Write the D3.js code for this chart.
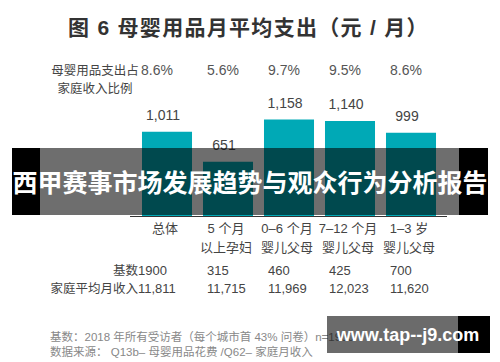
<!DOCTYPE html>
<html>
<head>
<meta charset="utf-8">
<script src="https://d3js.org/d3.v7.min.js"></script>
<style type="text/css">
body {margin:0;background:#fff;}
svg {display:block;}
text {font-family:"Liberation Sans","Noto Sans CJK SC",sans-serif;}
</style>
</head>
<body>
<svg id="chart" width="500" height="362"></svg>
<script type="text/javascript">
	// data
	var categories = ["总体", "5个月以上孕妇", "0–6个月婴儿父母", "7–12个月婴儿父母", "1–3岁婴儿父母"];
	var catLine1 = ["总体", "5 个月", "0–6 个月", "7–12 个月", "1–3 岁"];
	var catLine2 = ["", "以上孕妇", "婴儿父母", "婴儿父母", "婴儿父母"];
	var spend = [1011, 651, 1158, 1140, 999];
	var spendLabels = ["1,011", "651", "1,158", "1,140", "999"];
	var shareLabels = ["8.6%", "5.6%", "9.7%", "9.5%", "8.6%"];
	var baseCounts = ["1900", "315", "460", "425", "700"];
	var incomeLabels = ["11,811", "11,715", "11,969", "12,023", "11,620"];

	var svg = d3.select("#chart");

	var x = d3.scaleBand()
		.domain(categories)
		.range([136.5, 441.5])
		.paddingInner(0.18)
		.paddingOuter(0.09);

	var y = d3.scaleLinear()
		.domain([0, 1200])
		.range([216, 116]);

	// title
	svg.append("text")
		.attr("x", 68).attr("y", 35)
		.attr("font-size", 21).attr("font-weight", "bold")
		.attr("fill", "#333")
		.attr("letter-spacing", 1.3)
		.attr("font-family", "'Noto Sans CJK SC',sans-serif")
		.text("图 6  母婴用品月平均支出（元 / 月）");

	// share row
	var rowLab = svg.append("text")
		.attr("text-anchor", "middle")
		.attr("font-size", 12.5).attr("fill", "#444");
	rowLab.append("tspan").attr("x", 95).attr("y", 75).text("母婴用品支出占");
	rowLab.append("tspan").attr("x", 95).attr("y", 93).text("家庭收入比例");

	function colX(d, i) {
		return i == 0 ? x(categories[i]) - 1 : x(categories[i]) + 4;
	}

	svg.selectAll(".share").data(shareLabels).enter().append("text")
		.attr("class", "share")
		.attr("x", colX).attr("y", 75)
		.attr("font-size", 14).attr("fill", "#555")
		.text(function(d){ return d; });

	// bars
	svg.selectAll(".bar").data(spend).enter().append("rect")
		.attr("class", "bar")
		.attr("x", function(d, i){ return x(categories[i]); })
		.attr("width", x.bandwidth())
		.attr("y", function(d){ return y(d); })
		.attr("height", function(d){ return y(0) - y(d); })
		.attr("fill", "#00a9b6");

	svg.selectAll(".val").data(spend).enter().append("text")
		.attr("class", "val")
		.attr("x", function(d, i){ return x(categories[i]) + x.bandwidth() / 2 - 4; })
		.attr("y", function(d){ return y(d) - 12; })
		.attr("text-anchor", "middle")
		.attr("font-size", 14).attr("fill", "#444")
		.text(function(d, i){ return spendLabels[i]; });

	// axis line
	svg.append("line")
		.attr("x1", 130).attr("x2", 447)
		.attr("y1", y(0) + 0.5).attr("y2", y(0) + 0.5)
		.attr("stroke", "#333").attr("stroke-width", 1);

	// category labels
	svg.selectAll(".cat1").data(catLine1).enter().append("text")
		.attr("class", "cat1")
		.attr("x", function(d, i){ return x(categories[i]) + x.bandwidth() / 2 - 2; })
		.attr("y", 233)
		.attr("text-anchor", "middle")
		.attr("font-size", 13).attr("fill", "#444")
		.text(function(d){ return d; });
	svg.selectAll(".cat2").data(catLine2).enter().append("text")
		.attr("class", "cat2")
		.attr("x", function(d, i){ return x(categories[i]) + x.bandwidth() / 2 - 2; })
		.attr("y", 252)
		.attr("text-anchor", "middle")
		.attr("font-size", 13).attr("fill", "#444")
		.text(function(d){ return d; });

	// base and income rows
	svg.append("text").attr("x", 138).attr("y", 275)
		.attr("text-anchor", "end").attr("font-size", 12.5).attr("fill", "#444")
		.text("基数");
	svg.append("text").attr("x", 138).attr("y", 293)
		.attr("text-anchor", "end").attr("font-size", 12.5).attr("fill", "#444")
		.text("家庭平均月收入");

	function colX2(d, i) {
		return i == 0 ? 138 : x(categories[i]) + 4;
	}
	svg.selectAll(".base").data(baseCounts).enter().append("text")
		.attr("class", "base")
		.attr("x", colX2).attr("y", 275)
		.attr("font-size", 13).attr("fill", "#444")
		.text(function(d){ return d; });
	svg.selectAll(".inc").data(incomeLabels).enter().append("text")
		.attr("class", "inc")
		.attr("x", colX2).attr("y", 293)
		.attr("font-size", 13).attr("fill", "#444")
		.text(function(d){ return d; });

	// footer notes
	svg.append("text").attr("x", 50).attr("y", 341)
		.attr("font-size", 11.5).attr("fill", "#888")
		.text("基数：2018 年所有受访者（每个城市首 43% 问卷）n=1900");
	svg.append("text").attr("x", 50).attr("y", 356)
		.attr("font-size", 11.5).attr("fill", "#888")
		.text("数据来源： Q13b– 母婴用品花费 /Q62– 家庭月收入");

	// banner overlay
	svg.append("rect").attr("x", 12).attr("y", 148).attr("width", 28).attr("height", 67).attr("fill", "#000");
	svg.append("rect").attr("x", 459).attr("y", 148).attr("width", 29).attr("height", 67).attr("fill", "#000");
	svg.append("rect").attr("x", 40).attr("y", 148).attr("width", 419).attr("height", 67)
		.attr("fill", "#000").attr("fill-opacity", 0.57);
	svg.append("text")
		.attr("x", 250).attr("y", 192)
		.attr("text-anchor", "middle")
		.attr("font-size", 25).attr("font-weight", "bold").attr("fill", "#fff")
		.attr("font-family", "'Noto Sans CJK SC',sans-serif")
		.text("西甲赛事市场发展趋势与观众行为分析报告");

	// watermark
	svg.append("rect").attr("x", 458).attr("y", 316).attr("width", 32).attr("height", 37).attr("fill", "#000");
	svg.append("rect").attr("x", 327).attr("y", 316).attr("width", 131).attr("height", 37)
		.attr("fill", "#000").attr("fill-opacity", 0.58);
	svg.append("text")
		.attr("x", 408).attr("y", 341)
		.attr("text-anchor", "middle")
		.attr("font-size", 18).attr("font-weight", "bold").attr("fill", "#fff")
		.attr("font-family", "'DejaVu Sans',sans-serif")
		.text("www.tap--j9.com");
</script>
</body>
</html>
